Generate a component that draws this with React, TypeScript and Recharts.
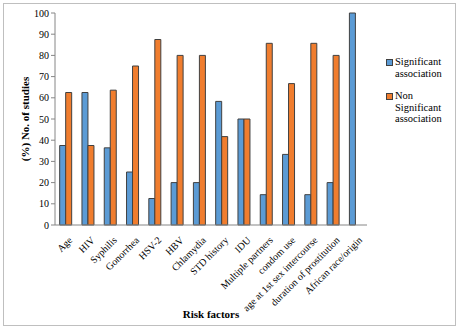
import React from "react";
import { BarChart, Bar, XAxis, YAxis } from "recharts";

// Risk factors and share of studies reporting (non) significant association
const categories = [
  "Age",
  "HIV",
  "Syphilis",
  "Gonorrhea",
  "HSV-2",
  "HBV",
  "Chlamydia",
  "STD history",
  "IDU",
  "Multiple partners",
  "condom use",
  "age at 1st sex intercourse",
  "duration of prostitution",
  "African race/origin",
];
const significant = [37.5, 62.5, 36.4, 25, 12.5, 20, 20, 58.3, 50, 14.3, 33.3, 14.3, 20, 100];
const nonSignificant = [62.5, 37.5, 63.6, 75, 87.5, 80, 80, 41.7, 50, 85.7, 66.7, 85.7, 80, 0];
const yTicks = [0, 10, 20, 30, 40, 50, 60, 70, 80, 90, 100];

const BLUE = "#5b9bd5";
const ORANGE = "#f07d2e";
const FONT = "Liberation Serif, serif";

const data = categories.map((name, i) => ({
  name,
  sig: significant[i],
  nonsig: nonSignificant[i],
}));

function CategoryTick(props: any) {
  const { x, y, payload } = props;
  return (
    <g transform={`translate(${x + 4},${y + 5})`}>
      <text
        textAnchor="end"
        transform="rotate(-45)"
        style={{ fontFamily: FONT, fontSize: 10 }}
        fill="#000"
        dy={4}
      >
        {payload.value}
      </text>
    </g>
  );
}

// legend drawn as a plain overlay so it doesn't shrink the plot area
function LegendBox() {
  const entries = [
    { color: BLUE, lines: ["Significant", "association"] },
    { color: ORANGE, lines: ["Non", "Significant", "association"] },
  ];
  return (
    <div
      style={{
        position: "absolute",
        left: 386,
        top: 56,
        width: 70,
        fontFamily: FONT,
        fontSize: 10.5,
        color: "#000",
        lineHeight: "11.5px",
      }}
    >
      {entries.map((e, i) => (
        <div key={i} style={{ display: "flex", marginBottom: 11 }}>
          <div
            style={{
              width: 5,
              height: 5,
              marginTop: 3,
              marginRight: 2,
              background: e.color,
              border: "1px solid #404040",
              flexShrink: 0,
            }}
          />
          <div>
            {e.lines.map((l, j) => (
              <div key={j}>{l}</div>
            ))}
          </div>
        </div>
      ))}
    </div>
  );
}

export default function App() {
  return (
    <div style={{ position: "absolute", left: 0, top: 0, width: 459, height: 329, background: "#fff" }}>
      <div
        style={{
          position: "absolute",
          left: 3,
          top: 3,
          width: 451,
          height: 321,
          border: "1px solid #bfbfbf",
        }}
      />
      <BarChart
        width={459}
        height={329}
        data={data}
        margin={{ top: 13, right: 92, left: 25, bottom: 14 }}
        barGap={0}
        barCategoryGap="21%"
      >
        <XAxis
          dataKey="name"
          interval={0}
          height={90}
          tick={<CategoryTick />}
          tickLine={false}
          axisLine={{ stroke: "#868686" }}
          label={{
            value: "Risk factors",
            position: "insideBottom",
            offset: -3,
            style: { fontFamily: FONT, fontSize: 11, fontWeight: "bold", fill: "#000" },
          }}
        />
        <YAxis
          width={30}
          domain={[0, 100]}
          ticks={yTicks}
          interval={0}
          axisLine={{ stroke: "#868686" }}
          tickLine={{ stroke: "#868686" }}
          tickSize={4}
          tick={{ fontSize: 10, fill: "#000", style: { fontFamily: FONT } }}
          label={{
            value: "(%) No. of studies",
            angle: -90,
            position: "insideLeft",
            offset: 0,
            style: { fontFamily: FONT, fontSize: 11, fontWeight: "bold", fill: "#000", textAnchor: "middle" },
          }}
        />
        <Bar dataKey="sig" name="Significant association" fill={BLUE} stroke="#404040" strokeWidth={1} isAnimationActive={false} />
        <Bar dataKey="nonsig" name="Non Significant association" fill={ORANGE} stroke="#404040" strokeWidth={1} isAnimationActive={false} />
      </BarChart>
      <LegendBox />
    </div>
  );
}
